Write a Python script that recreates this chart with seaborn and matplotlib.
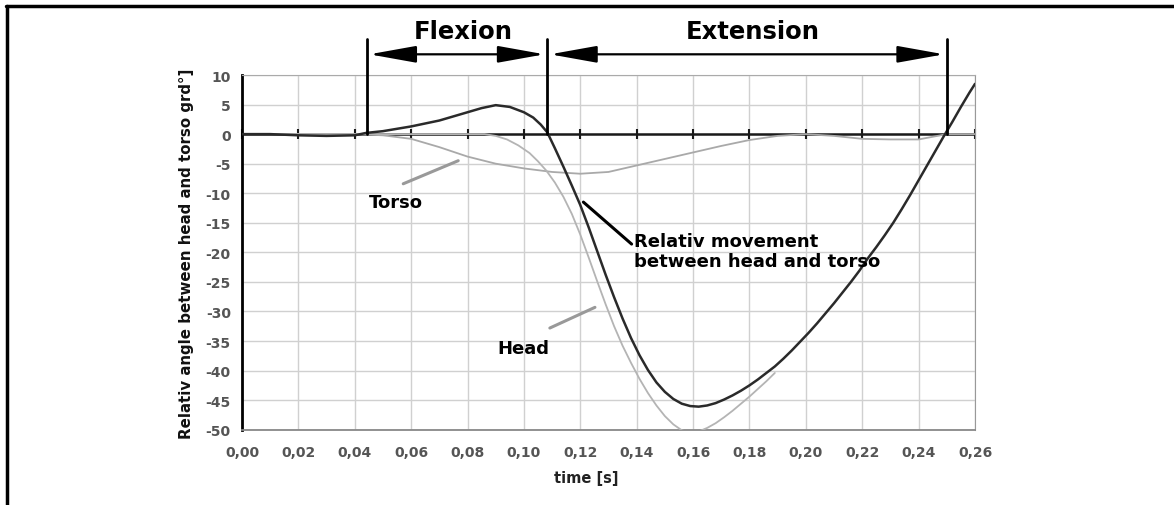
import matplotlib
matplotlib.use('Agg')
import matplotlib.pyplot as plot
from matplotlib.lines import Line2D
import numpy as np
import pandas as pd
import seaborn as sns

# relative movement between head and torso (dark curve)
time_rel = [0.000, 0.010, 0.020, 0.030, 0.040, 0.044, 0.050, 0.060, 0.070, 0.080,
            0.085, 0.090, 0.095, 0.100, 0.1033, 0.1060, 0.1083, 0.111, 0.114, 0.117,
            0.120, 0.123, 0.126, 0.129, 0.132, 0.135, 0.138, 0.141, 0.144, 0.147,
            0.150, 0.153, 0.156, 0.159, 0.162, 0.165, 0.168, 0.171, 0.174, 0.177,
            0.180, 0.183, 0.186, 0.189, 0.192, 0.195, 0.198, 0.201, 0.204, 0.207,
            0.210, 0.213, 0.216, 0.219, 0.222, 0.225, 0.228, 0.231, 0.234, 0.237,
            0.240, 0.243, 0.246, 0.249, 0.252, 0.255, 0.258, 0.260]
angle_rel = [0.0, 0.0, -0.2, -0.3, -0.2, 0.2, 0.5, 1.3, 2.3, 3.7,
             4.4, 4.9, 4.6, 3.7, 2.8, 1.6, 0.3, -2.4, -5.5, -8.7,
             -12.0, -15.8, -19.8, -23.8, -27.6, -31.2, -34.5, -37.4, -39.9, -42.0,
             -43.6, -44.8, -45.6, -46.0, -46.1, -45.9, -45.5, -44.9, -44.2, -43.4,
             -42.5, -41.5, -40.4, -39.3, -38.0, -36.6, -35.1, -33.6, -32.0, -30.3,
             -28.6, -26.8, -25.0, -23.1, -21.0, -19.1, -17.1, -15.0, -12.7, -10.3,
             -7.8, -5.3, -2.8, -0.3, 2.1, 4.6, 7.0, 8.5]

# torso
time_torso = [0.000, 0.040, 0.050, 0.060, 0.070, 0.080, 0.090, 0.100, 0.110, 0.120,
              0.130, 0.140, 0.150, 0.160, 0.170, 0.180, 0.190, 0.200, 0.210, 0.220,
              0.230, 0.240, 0.250, 0.260]
angle_torso = [0.0, 0.0, -0.2, -0.8, -2.2, -3.8, -5.0, -5.8, -6.4, -6.7,
               -6.4, -5.3, -4.2, -3.1, -2.0, -1.0, -0.3, 0.0, -0.3, -0.8,
               -0.9, -0.9, 0.0, 0.0]

# head
time_head = [0.000, 0.086, 0.090, 0.094, 0.098, 0.102, 0.105, 0.108, 0.111, 0.114,
             0.117, 0.120, 0.123, 0.126, 0.129, 0.132, 0.135, 0.138, 0.141, 0.144,
             0.147, 0.150, 0.153, 0.156, 0.159, 0.162, 0.165, 0.168, 0.171, 0.174,
             0.177, 0.180, 0.183, 0.186, 0.189]
angle_head = [0.0, 0.0, -0.3, -0.9, -1.9, -3.2, -4.6, -6.2, -8.2, -10.6,
              -13.5, -17.0, -20.9, -24.9, -28.8, -32.5, -35.8, -38.7, -41.4, -43.8,
              -45.9, -47.7, -49.1, -50.1, -50.5, -50.3, -49.7, -48.9, -47.9, -46.8,
              -45.6, -44.4, -43.1, -41.8, -40.4]

x_ticks = np.arange(0, 0.261, 0.02)
y_ticks = np.arange(-50, 11, 5)

phase_bounds = [0.0442, 0.1083, 0.2500]
phase_names = ['Flexion', 'Extension']

if __name__ == '__main__':
    sns.set_style('white')
    plot.rcParams['font.family'] = ['DejaVu Sans']
    plot.rcParams['text.color'] = 'black'

    fig = plot.figure(figsize=(11.74, 5.06), dpi=100)
    ax = fig.add_axes([0.2061, 0.1488, 0.6244, 0.7010])

    sns.lineplot(x=time_torso, y=angle_torso, ax=ax, color='#a9a9a9', linewidth=1.3,
                 estimator=None, sort=False, zorder=3)
    sns.lineplot(x=time_head, y=angle_head, ax=ax, color='#b4b4b4', linewidth=1.3,
                 estimator=None, sort=False, zorder=3)
    sns.lineplot(x=time_rel, y=angle_rel, ax=ax, color='#2a2a2a', linewidth=1.8,
                 estimator=None, sort=False, zorder=4)

    ax.set_xlim(0, 0.26)
    ax.set_ylim(-50, 10)
    ax.set_xticks(x_ticks)
    ax.set_yticks(y_ticks)
    ax.set_xticklabels([f'{t:.2f}'.replace('.', ',') for t in x_ticks])
    ax.set_yticklabels([str(v) for v in y_ticks])
    ax.grid(True, color='#d0d0d0', linewidth=1.0)
    ax.set_axisbelow(True)
    for lab in ax.get_xticklabels() + ax.get_yticklabels():
        lab.set_fontweight('bold')
        lab.set_color('#555555')
        lab.set_fontsize(10)
    ax.tick_params(axis='x', length=0, pad=11)
    ax.tick_params(axis='y', direction='out', length=5, width=1.5, color='black', pad=3)

    ax.spines['left'].set_color('black')
    ax.spines['left'].set_linewidth(2)
    ax.spines['bottom'].set_color('#888888')
    ax.spines['bottom'].set_linewidth(1.3)
    ax.spines['top'].set_color('#aaaaaa')
    ax.spines['right'].set_color('#999999')

    # zero line with little ticks
    ax.axhline(0, color='#1a1a1a', linewidth=1.8, zorder=2)
    ax.plot(x_ticks, np.zeros_like(x_ticks), linestyle='none', marker='|',
            markersize=7, markeredgewidth=1.5, color='#1a1a1a', zorder=2, clip_on=False)

    ax.set_xlabel('time [s]', fontweight='bold', fontsize=10.5, color='#222222')
    ax.xaxis.set_label_coords(0.47, -0.115)
    ax.set_ylabel('Relativ angle between head and torso grd°]', fontweight='bold',
                  fontsize=10.8, color='#111111')
    ax.yaxis.set_label_coords(-0.066, 0.5)

    # phase markers and arrows
    for t in phase_bounds:
        ax.plot([t, t], [0, 16.1], color='black', linewidth=2, clip_on=False, zorder=5)
    for i, name in enumerate(phase_names):
        t0, t1 = phase_bounds[i], phase_bounds[i + 1]
        ax.annotate('', xy=(t1, 13.5), xytext=(t0, 13.5), annotation_clip=False,
                    arrowprops=dict(arrowstyle='<|-|>,head_length=1.45,head_width=0.26',
                                    mutation_scale=20, color='black', linewidth=1.6,
                                    shrinkA=2, shrinkB=2))
    ax.text(0.0784, 17.4, phase_names[0], ha='center', va='center', fontsize=17.5,
            fontweight='bold', clip_on=False)
    ax.text(0.181, 17.4, phase_names[1], ha='center', va='center', fontsize=17.5,
            fontweight='bold', clip_on=False)

    # labels with pointers
    ax.plot([0.0572, 0.0767], [-8.4, -4.5], color='#999999', linewidth=2.2, zorder=5)
    ax.text(0.0546, -11.5, 'Torso', ha='center', va='center', fontsize=13,
            fontweight='bold', zorder=6)
    ax.plot([0.1092, 0.1252], [-32.8, -29.3], color='#999999', linewidth=2.2, zorder=5)
    ax.text(0.0998, -36.1, 'Head', ha='center', va='center', fontsize=13,
            fontweight='bold', zorder=6)
    ax.plot([0.1211, 0.1382], [-11.5, -18.6], color='black', linewidth=2.2, zorder=5)
    ax.text(0.1392, -19.8, 'Relativ movement\nbetween head and torso', ha='left',
            va='center', fontsize=13, fontweight='bold', linespacing=1.15, zorder=6)

    # frame lines of the page
    fig.add_artist(Line2D([6 / 1174, 1], [1 - 7 / 506, 1 - 7 / 506], color='black',
                          linewidth=2.5, transform=fig.transFigure))
    fig.add_artist(Line2D([7 / 1174, 7 / 1174], [0, 1 - 7 / 506], color='black',
                          linewidth=2.5, transform=fig.transFigure))

    plot.savefig('out.png', dpi=100)
